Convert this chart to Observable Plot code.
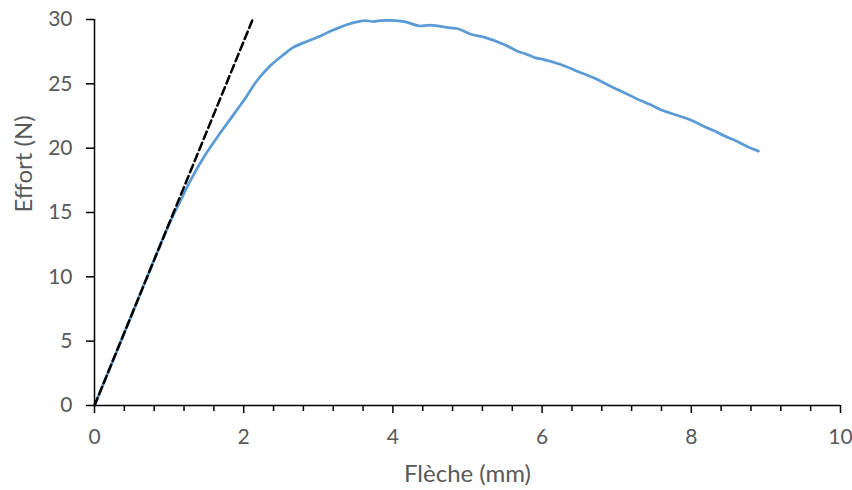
<!DOCTYPE html>
<html>
<head>
<meta charset="utf-8">
<script src="https://cdn.jsdelivr.net/npm/d3@7"></script>
<script src="https://cdn.jsdelivr.net/npm/@observablehq/plot@0.6"></script>
<style>
  html, body { margin: 0; padding: 0; background: #fff; }
  #chart { width: 852px; height: 490px; }
</style>
</head>
<body>
<div id="chart"></div>
<script>
// Measured curve: Flèche (mm) vs Effort (N)
const flecheMm = [0, 0.3, 0.6, 0.9, 1.04, 1.153, 1.287, 1.465, 1.645, 1.823, 2.0, 2.18, 2.36, 2.52, 2.67, 2.94, 3.21, 3.39, 3.57, 3.63, 3.74, 3.83, 4.15, 4.35, 4.50, 4.77, 4.86, 5.06, 5.22, 5.49, 5.67, 5.78, 5.91, 6.0, 6.25, 6.47, 6.69, 6.96, 7.18, 7.32, 7.45, 7.59, 7.86, 8.03, 8.21, 8.30, 8.44, 8.61, 8.77, 8.90];
const effortN = [0, 4.24, 8.49, 12.73, 14.6, 15.93, 17.49, 19.3, 20.85, 22.28, 23.7, 25.26, 26.42, 27.2, 27.85, 28.5, 29.2, 29.61, 29.87, 29.92, 29.84, 29.92, 29.84, 29.5, 29.56, 29.35, 29.3, 28.83, 28.63, 28.06, 27.54, 27.33, 27.02, 26.92, 26.5, 25.98, 25.47, 24.69, 24.09, 23.7, 23.39, 22.98, 22.46, 22.1, 21.58, 21.37, 20.96, 20.54, 20.07, 19.77];
// Initial stiffness tangent (dashed)
const tangentX = [0, 2.12];
const tangentY = [0, 30];
// Axis ticks
const xTicks = [0, 2, 4, 6, 8, 10];
const xMinorTicks = [0.4, 0.8, 1.2, 1.6, 2.4, 2.8, 3.2, 3.6, 4.4, 4.8, 5.2, 5.6, 6.4, 6.8, 7.2, 7.6, 8.4, 8.8, 9.2, 9.6];
const yTicks = [0, 5, 10, 15, 20, 25, 30];
const xTitle = "Flèche (mm)";
const yTitle = "Effort (N)";

const curve = flecheMm.map((x, i) => ({x, y: effortN[i]}));
const tangent = tangentX.map((x, i) => ({x, y: tangentY[i]}));

const textColor = "#595959";
const font = "Lato, 'Open Sans', sans-serif";

const chart = Plot.plot({
  width: 852,
  height: 490,
  marginLeft: 94,
  marginRight: 12,
  marginTop: 19,
  marginBottom: 85,
  style: {fontFamily: font, fontSize: "21px", color: textColor, background: "#fff"},
  x: {domain: [0, 10]},
  y: {domain: [0, 30]},
  marks: [
    Plot.axisX({ticks: xMinorTicks, tickSize: 6, text: null, label: null, stroke: "#000", strokeWidth: 1.5}),
    Plot.axisX({ticks: xTicks, tickSize: 8, tickPadding: 16, stroke: "#000", strokeWidth: 1.5, fill: textColor, label: null, fontSize: 21}),
    Plot.axisY({ticks: yTicks, tickSize: 8, tickPadding: 14, stroke: "#000", strokeWidth: 1.5, fill: textColor, label: null, fontSize: 21}),
    Plot.line(curve, {x: "x", y: "y", stroke: "#5B9BD5", strokeWidth: 2.75, curve: "catmull-rom"}),
    Plot.line(tangent, {x: "x", y: "y", stroke: "#000", strokeWidth: 2.5, strokeDasharray: "8,4"}),
    Plot.ruleY([0], {stroke: "#000", strokeWidth: 1.5}),
    Plot.ruleX([0], {stroke: "#000", strokeWidth: 1.5}),
    Plot.text([xTitle], {frameAnchor: "bottom", dy: 76, fill: textColor, fontSize: 24}),
    Plot.text([yTitle], {frameAnchor: "left", dx: -70, rotate: -90, fill: textColor, fontSize: 24})
  ]
});
document.getElementById("chart").appendChild(chart);
</script>
</body>
</html>
